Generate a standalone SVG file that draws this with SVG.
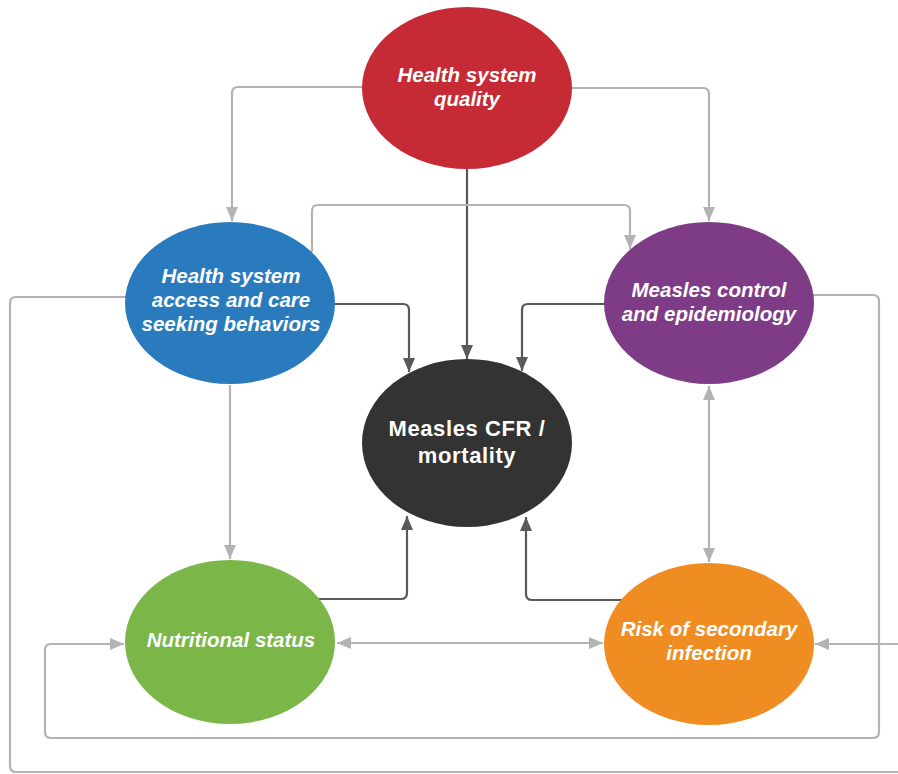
<svg xmlns="http://www.w3.org/2000/svg" width="898" height="774" viewBox="0 0 898 774">
<style>
.lt{fill:none;stroke:#b3b3b3;stroke-width:2.2;stroke-linejoin:round}
.dk{fill:none;stroke:#595959;stroke-width:2.2;stroke-linejoin:round}
.t{font-family:"Liberation Sans",Arial,sans-serif;font-weight:bold;font-style:italic;font-size:20.5px;fill:#fff;text-anchor:middle}
.tc{font-family:"Liberation Sans",Arial,sans-serif;font-weight:bold;font-size:22px;fill:#fff;text-anchor:middle;letter-spacing:0.6px}
</style>
<defs>
<marker id="al" viewBox="0 0 14 12" refX="14" refY="6" markerWidth="14" markerHeight="12" markerUnits="userSpaceOnUse" orient="auto-start-reverse"><path d="M0,0 L14,6 L0,12 Z" fill="#b3b3b3"/></marker>
<marker id="ad" viewBox="0 0 14 12" refX="14" refY="6" markerWidth="14" markerHeight="12" markerUnits="userSpaceOnUse" orient="auto-start-reverse"><path d="M0,0 L14,6 L0,12 Z" fill="#595959"/></marker>
</defs>
<rect width="898" height="774" fill="#fff"/>
<g id="connectors">
<path class="lt" d="M363,87 H238 Q232,87 232,93 V221" marker-end="url(#al)"/>
<path class="lt" d="M571,88 H703 Q709,88 709,94 V221" marker-end="url(#al)"/>
<path class="dk" d="M467,169 V359" marker-end="url(#ad)"/>
<path class="lt" d="M312,252 V211 Q312,205 318,205 H624 Q630,205 630,211 V249" marker-end="url(#al)"/>
<path class="dk" d="M333,304 H403 Q409,304 409,310 V372" marker-end="url(#ad)"/>
<path class="dk" d="M606,304 H528 Q522,304 522,310 V371" marker-end="url(#ad)"/>
<path class="dk" d="M318,599 H401 Q407,599 407,593 V516" marker-end="url(#ad)"/>
<path class="dk" d="M622,600 H532 Q526,600 526,594 V517" marker-end="url(#ad)"/>
<path class="lt" d="M230,385 V559" marker-end="url(#al)"/>
<path class="lt" d="M709,386 V562" marker-start="url(#al)" marker-end="url(#al)"/>
<path class="lt" d="M337,643 H603" marker-start="url(#al)" marker-end="url(#al)"/>
<path class="lt" d="M127,297 H16 Q10,297 10,303 V766 Q10,772 16,772 H898"/>
<path class="lt" d="M898,644 H815" marker-end="url(#al)"/>
<path class="lt" d="M813,295 H873 Q879,295 879,301 V732 Q879,738 873,738 H51 Q45,738 45,732 V650 Q45,644 51,644 H124" marker-end="url(#al)"/>
</g>
<g id="n-quality"><ellipse cx="467" cy="88" rx="105" ry="81" fill="#c62a35"/>
<text class="t" x="467" y="82">Health system</text><text class="t" x="467" y="106">quality</text></g>
<g id="n-access"><ellipse cx="230" cy="303" rx="105" ry="81" fill="#2a7bbd"/>
<text class="t" x="231" y="283">Health system</text><text class="t" x="231" y="307">access and care</text><text class="t" x="231" y="331">seeking behaviors</text></g>
<g id="n-control"><ellipse cx="709" cy="303" rx="105" ry="81" fill="#7e3c87"/>
<text class="t" x="709" y="297">Measles control</text><text class="t" x="709" y="321">and epidemiology</text></g>
<g id="n-cfr"><ellipse cx="467" cy="443" rx="105" ry="84" fill="#333333"/>
<text class="tc" x="467" y="436">Measles CFR /</text><text class="tc" x="467" y="463">mortality</text></g>
<g id="n-nutrition"><ellipse cx="230" cy="642" rx="105" ry="82" fill="#7ab648"/>
<text class="t" x="231" y="647">Nutritional status</text></g>
<g id="n-infection"><ellipse cx="709" cy="644" rx="105" ry="81" fill="#ef8d22"/>
<text class="t" x="709" y="636">Risk of secondary</text><text class="t" x="709" y="660">infection</text></g>
</svg>
